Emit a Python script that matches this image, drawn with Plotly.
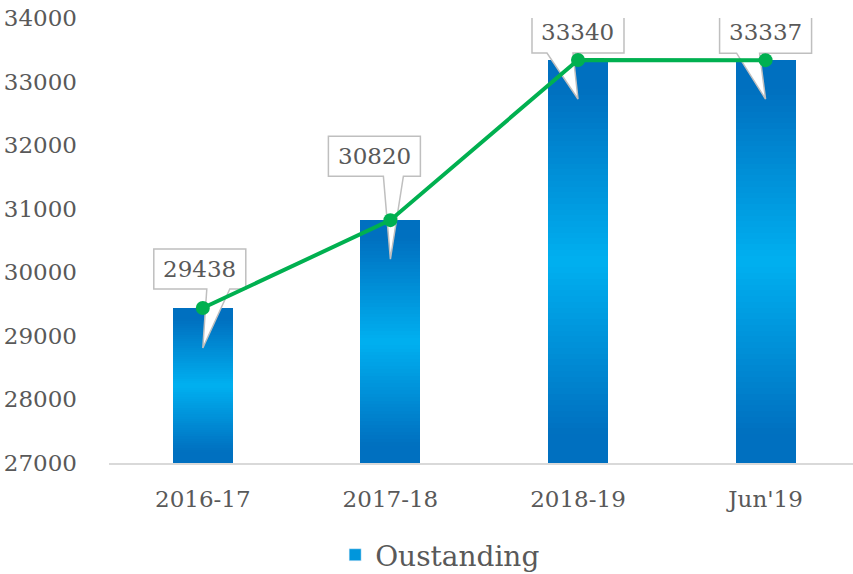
import plotly.graph_objects as go

categories = ["2016-17", "2017-18", "2018-19", "Jun'19"]
outstanding = [29438, 30820, 33340, 33337]
y_ticks = [27000, 28000, 29000, 30000, 31000, 32000, 33000, 34000]
series_name = "Oustanding"

# style: callout geometry in pixels relative to each bar top (box l, r, bottom, top, wedge base l, r, tip dy)
callouts = [
    dict(l=-49, r=43, b=19, t=59, wl=4, wr=27, tip=-40, tx=-3, ty=39),
    dict(l=-62, r=30, b=44, t=84, wl=-7, wr=13, tip=-39, tx=-16, ty=64),
    dict(l=-46, r=46, b=7, t=49, wl=-31, wr=-5, tip=-39, tx=0, ty=28),
    dict(l=-46, r=46, b=7, t=49, wl=-29, wr=-6, tip=-39, tx=0, ty=28),
]

FONT = "DejaVu Serif"
TXT = "#595959"
DARK = (0, 112, 192)
LIGHT = (0, 176, 240)
BASE = 27000
N = 70


def grad_color(f):
    # f: 0 bottom .. 1 top
    d = abs(f - 0.5) / 0.5  # 0 at middle, 1 at ends
    d = min(1.0, d / 0.85)
    c = [round(LIGHT[k] + (DARK[k] - LIGHT[k]) * d) for k in range(3)]
    return f"rgb({c[0]},{c[1]},{c[2]})"


fig = go.Figure()

for i in range(N):
    f0 = i / N
    bases = [BASE + (v - BASE) * f0 for v in outstanding]
    heights = [v - b for v, b in zip(outstanding, bases)]
    fig.add_trace(go.Bar(
        x=categories, y=heights, base=bases, width=0.32,
        marker=dict(color=grad_color(f0 + 0.5 / N), line=dict(width=0)),
        showlegend=False, hoverinfo="skip", xaxis="x", yaxis="y",
    ))

# legend entry
fig.add_trace(go.Bar(
    x=[categories[0]], y=[None], name=series_name,
    marker=dict(color="rgb(0,150,220)"), showlegend=True, hoverinfo="skip",
    xaxis="x", yaxis="y",
))

# line on a second (coincident) subplot so callouts sit between bars and line
fig.add_trace(go.Scatter(
    x=categories, y=outstanding, mode="lines+markers",
    line=dict(color="#00B050", width=4),
    marker=dict(color="#00B050", size=14),
    showlegend=False, xaxis="x2", yaxis="y2", hoverinfo="skip",
))

shapes = []
annotations = []
for cat, v, c in zip(categories, outstanding, callouts):
    path = (f"M {c['l']},{c['t']} L {c['r']},{c['t']} L {c['r']},{c['b']} "
            f"L {c['wr']},{c['b']} L 0,{c['tip']} L {c['wl']},{c['b']} "
            f"L {c['l']},{c['b']} Z")
    shapes.append(dict(
        type="path", path=path, xref="x2", yref="y2",
        xsizemode="pixel", ysizemode="pixel", xanchor=cat, yanchor=v,
        fillcolor="white", line=dict(color="#BFBFBF", width=1.5),
        layer="between",
    ))
    annotations.append(dict(
        x=cat, y=v, xref="x", yref="y", text=str(v), showarrow=False,
        xanchor="center", yanchor="middle", xshift=c["tx"], yshift=c["ty"],
        font=dict(family=FONT, size=23, color=TXT),
    ))

xr = [-0.5, 3.466]
yr = [27000, 34000]
fig.update_layout(
    width=853, height=574,
    margin=dict(l=109, r=0, t=18, b=111),
    paper_bgcolor="white", plot_bgcolor="rgba(0,0,0,0)",
    barmode="overlay", bargap=0,
    font=dict(family=FONT, color=TXT),
    xaxis=dict(type="category", range=xr, showgrid=False, showline=True,
               linecolor="#D9D9D9", linewidth=2, ticks="", zeroline=False,
               tickfont=dict(family=FONT, size=23, color=TXT),
               ticklabelstandoff=14, automargin=False),
    yaxis=dict(range=yr, tickvals=y_ticks, tickformat="d", showgrid=False,
               showline=False, zeroline=False, ticks="",
               tickfont=dict(family=FONT, size=23, color=TXT),
               ticklabelstandoff=31, automargin=False),
    xaxis2=dict(type="category", range=xr, visible=False, anchor="y2",
                categoryorder="array", categoryarray=categories,
                automargin=False),
    yaxis2=dict(range=yr, visible=False, anchor="x2", automargin=False),
    shapes=shapes,
    annotations=annotations,
    showlegend=True,
    legend=dict(orientation="h", xref="container", yref="container",
                x=0.516, xanchor="center", y=0.033, yanchor="middle",
                font=dict(family=FONT, size=28, color=TXT),
                bgcolor="rgba(0,0,0,0)"),
)

fig.write_html(
    "out.html",
    config={"displayModeBar": False},
    post_script="document.body.style.margin='0';document.body.style.overflow='hidden';",
)
